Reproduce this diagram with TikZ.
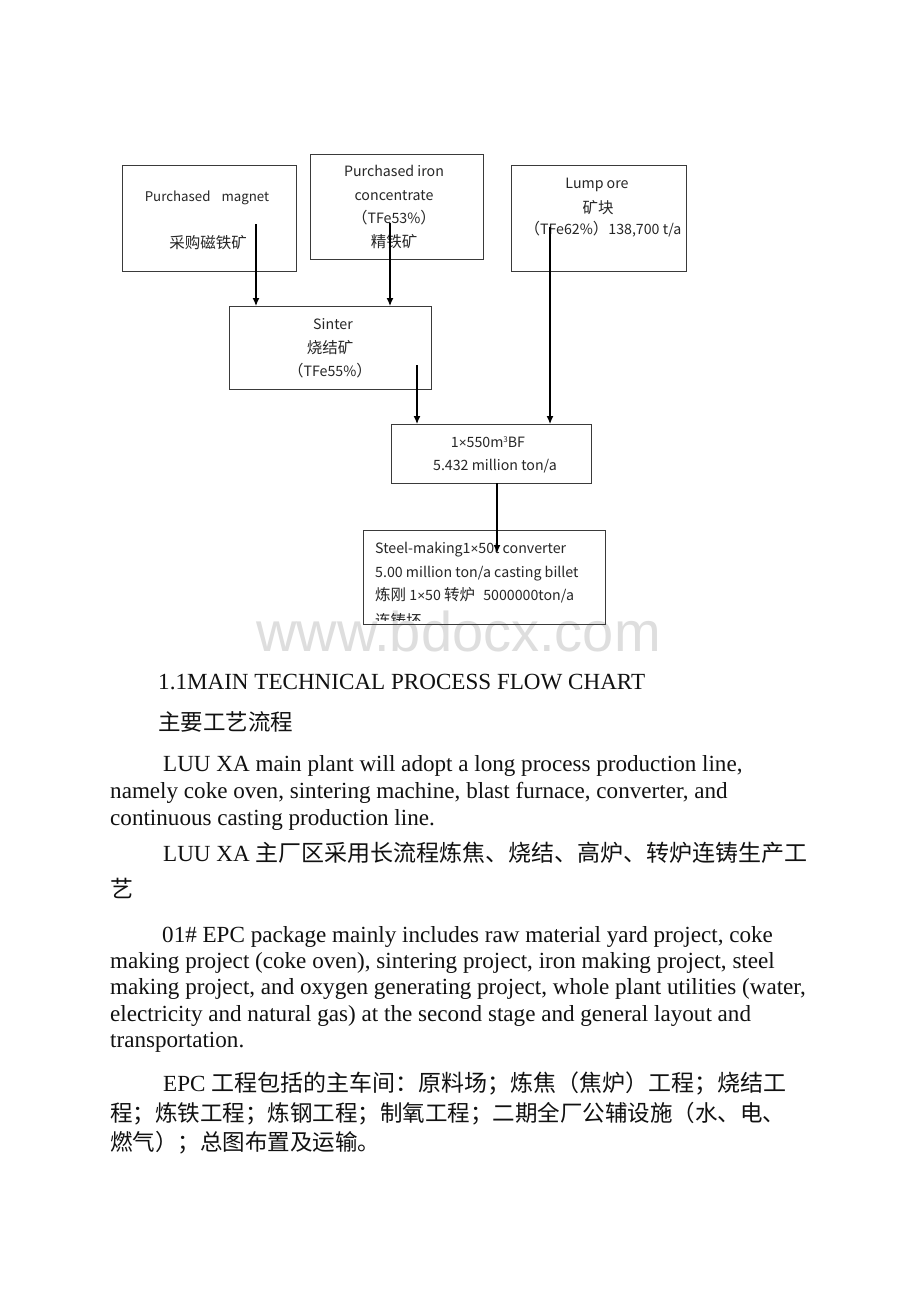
\documentclass[tikz,border=0pt]{standalone}
\usepackage{fontspec}
\setmainfont{Liberation Serif}
\newfontfamily\cjk{Noto Sans CJK SC}
\newfontfamily\wmfont{Liberation Sans}
\usetikzlibrary{arrows.meta}
\definecolor{boxline}{HTML}{3A3A3A}
\definecolor{wmgray}{HTML}{DEDEDE}
\definecolor{bodytext}{HTML}{111111}
\newcommand{\zh}[1]{{\cjk\fontsize{15.5}{18}\selectfont #1}}
\newcommand{\bx}{{\wmfont\fontsize{13.5}{16}\selectfont ×}}
\newcommand{\bzh}[1]{{\cjk\fontsize{23}{27}\selectfont #1}}
\tikzset{
  procbox/.style={draw=boxline, line width=1pt, anchor=north west, inner sep=0pt},
  boxtxt/.style={anchor=base, inner sep=0pt, font=\cjk\fontsize{14.2}{17}\selectfont, text=black!85},
  boxtxtl/.style={anchor=base west, inner sep=0pt, font=\cjk\fontsize{14.2}{17}\selectfont, text=black!85},
  bodyline/.style={anchor=base west, inner sep=0pt, font=\fontsize{23.1}{27}\selectfont, text=bodytext},
  flow/.style={line width=1.2pt, -{Latex[length=8pt,width=7pt]}},
}
\begin{document}
\begin{tikzpicture}[x=1pt,y=-1pt]
\useasboundingbox[fill=white] (0,0) rectangle (920,1302);

% watermark (behind)
\node[anchor=base west, inner sep=0pt, text=wmgray, font=\wmfont\fontsize{56}{56}\selectfont] (wm) at (256,651)
  {www.bdocx.com};

% boxes
\node[procbox, minimum width=174pt, minimum height=106pt] (b1) at (122,165) {};
\node[procbox, minimum width=173pt, minimum height=105pt] (b2) at (310,154) {};
\node[procbox, minimum width=175pt, minimum height=106pt] (b3) at (511,165) {};
\node[procbox, minimum width=202pt, minimum height=83pt] (sin) at (229,306) {};
\node[procbox, minimum width=200pt, minimum height=59pt] (bf) at (391,424) {};
\node[procbox, minimum width=242pt, minimum height=94pt] (st) at (363,530) {};

% box texts
\node[boxtxt, font=\cjk\fontsize{13.3}{16}\selectfont] (t1a) at (207,201) {Purchased\hspace{11pt}magnet};
\node[boxtxt] (t1b) at (208,248) {\zh{采购磁铁矿}};
\node[boxtxt] (t2a) at (394,176) {Purchased iron};
\node[boxtxt] (t2b) at (394,200) {concentrate};
\node[boxtxt] (t2c) at (394,223) {\zh{（}TFe53\%\zh{）}};
\node[boxtxt] (t2d) at (394,247) {\zh{精铁矿}};
\node[boxtxt] (t3a) at (597,188) {Lump ore};
\node[boxtxt] (t3b) at (598,213) {\zh{矿块}};
\node[boxtxt] (t3c) at (603,234) {\zh{（}TFe62\%\zh{）}138,700 t/a};
\node[boxtxt] (tsa) at (333,329) {Sinter};
\node[boxtxt] (tsb) at (330,353) {\zh{烧结矿}};
\node[boxtxt] (tsc) at (330,376) {\zh{（}TFe55\%\zh{）}};
\node[boxtxt] (tba) at (488,447) {1\bx 550m\raisebox{5pt}{\fontsize{8}{8}\selectfont 3}BF};
\node[boxtxt] (tbb) at (495,470) {5.432 million ton/a};
\node[boxtxtl] (tta) at (375,553) {Steel-making1\bx 50t converter};
\node[boxtxtl] (ttb) at (375,577) {5.00 million ton/a casting billet};
\node[boxtxtl] (ttc) at (375,600) {\zh{炼刚} 1\bx 50 \zh{转炉}\hspace{5pt} 5000000ton/a};
\begin{scope}
\clip (363,530) rectangle (605,620);
\node[boxtxtl] (ttd) at (375,626) {\zh{连铸坯}};
\end{scope}

% connector start points
\coordinate (s1) at (256,224);
\coordinate (s2) at (390,223);
\coordinate (s3) at (550,227);
\coordinate (s4) at (417,365);
\coordinate (s5) at (497,483);
\coordinate (e5) at (497,553);

\draw[flow] (s1) -- (s1 |- sin.north);
\draw[flow] (s2) -- (s2 |- sin.north);
\draw[flow] (s3) -- (s3 |- bf.north);
\draw[flow] (s4) -- (s4 |- bf.north);
\draw[flow] (s5) -- (e5);

% body text
\node[bodyline] (l1) at (158,689) {1.1MAIN TECHNICAL PROCESS FLOW CHART};
\node[bodyline] (l2) at (158,730) {\cjk\fontsize{22.5}{27}\selectfont 主要工艺流程};
\node[bodyline] (l3) at (163,771) {LUU XA main plant will adopt a long process production line,};
\node[bodyline] (l4) at (110,798) {namely coke oven, sintering machine, blast furnace, converter, and};
\node[bodyline] (l5) at (110,825) {continuous casting production line.};
\node[bodyline] (l6) at (163,861) {LUU XA\hspace{6pt}\bzh{主厂区采用长流程炼焦、烧结、高炉、转炉连铸生产工}};
\node[bodyline] (l7) at (110,897) {\bzh{艺}};
\node[bodyline] (l8) at (162,942) {01\# EPC package mainly includes raw material yard project, coke};
\node[bodyline] (l9) at (110,968) {making project (coke oven), sintering project, iron making project, steel};
\node[bodyline] (l10) at (110,994) {making project, and oxygen generating project, whole plant utilities (water,};
\node[bodyline] (l11) at (110,1021) {electricity and natural gas) at the second stage and general layout and};
\node[bodyline] (l12) at (110,1047) {transportation.};
\node[bodyline] (l13) at (163,1091) {EPC\hspace{6pt}\bzh{工程包括的主车间：原料场；炼焦（焦炉）工程；烧结工}};
\node[bodyline] (l14) at (110,1121) {\cjk\fontsize{22.5}{27}\selectfont 程；炼铁工程；炼钢工程；制氧工程；二期全厂公辅设施（水、电、};
\node[bodyline] (l15) at (110,1150) {\cjk\fontsize{22.5}{27}\selectfont 燃气）；总图布置及运输。};
\end{tikzpicture}
\end{document}
